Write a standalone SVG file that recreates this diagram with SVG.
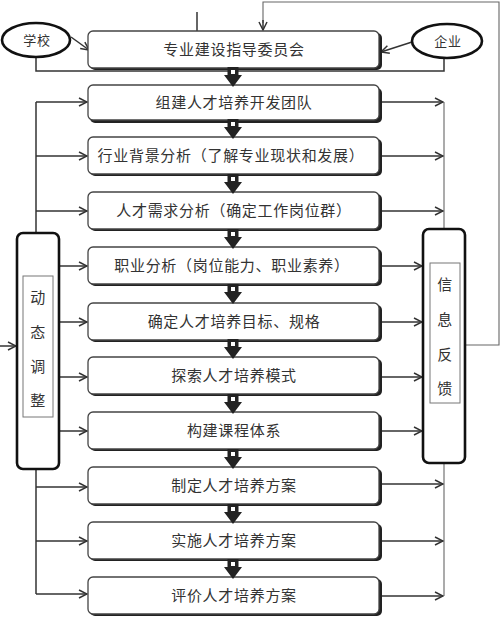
<svg xmlns="http://www.w3.org/2000/svg" width="500" height="617" viewBox="0 0 500 617">
<style>
.bx{fill:#fff;stroke:#444;stroke-width:1.3}
.sh{fill:#222}
.t{font-family:"Noto Sans CJK SC","Noto Sans",sans-serif;font-size:15px;fill:#333;text-anchor:middle;letter-spacing:0.7px}
.ln{fill:none;stroke:#333;stroke-width:1.5}
.lg{fill:none;stroke:#666;stroke-width:1.1}
.ob{fill:#fff;stroke:#111;stroke-width:2.6}
.ib{fill:#fff;stroke:#777;stroke-width:1}
</style>
<defs>
<marker id="ah" markerWidth="10" markerHeight="10" refX="9" refY="5" orient="auto" markerUnits="userSpaceOnUse"><path d="M1,1 L9,5 L1,9" fill="none" stroke="#333" stroke-width="1.5"/></marker>
<symbol id="dn" viewBox="-9 0 18 20" width="18" height="20" overflow="visible">
<path d="M-5.5,0 H5.5 V8 H9 L0,20 L-9,8 H-5.5 Z" fill="#222"/>
<rect x="-2" y="3" width="4" height="4" fill="#fff"/>
</symbol>
</defs>

<g id="connectors">
<!-- top loop -->
<path class="lg" d="M465,345 H499 V2 H263 V23"/>
<path class="ln" d="M263,20 V30" marker-end="url(#ah)"/>
<path class="ln" d="M197,12 V31"/>
<!-- ellipse arrows -->
<path class="ln" d="M71,37 L89,50" marker-end="url(#ah)"/>
<path class="ln" d="M412,42 L381,52" marker-end="url(#ah)"/>
<path class="ln" d="M36,58 V71 H444 V58"/>
<!-- left bus -->
<path class="ln" d="M36,102 V233"/>
<path class="ln" d="M36,102 H87" marker-end="url(#ah)"/>
<path class="ln" d="M36,156 H87" marker-end="url(#ah)"/>
<path class="ln" d="M36,211 H87" marker-end="url(#ah)"/>
<path class="ln" d="M59,266 H87" marker-end="url(#ah)"/>
<path class="ln" d="M59,322 H87" marker-end="url(#ah)"/>
<path class="ln" d="M59,377 H87" marker-end="url(#ah)"/>
<path class="ln" d="M59,431 H87" marker-end="url(#ah)"/>
<path class="ln" d="M36,469 V594"/>
<path class="ln" d="M36,487 H87" marker-end="url(#ah)"/>
<path class="ln" d="M36,541 H87" marker-end="url(#ah)"/>
<path class="ln" d="M36,594 H87" marker-end="url(#ah)"/>
<path class="ln" d="M0,346 H16" marker-end="url(#ah)"/>
<!-- right bus -->
<path class="lg" d="M444,102 V229"/>
<path class="ln" d="M381,102 H443" marker-end="url(#ah)"/>
<path class="ln" d="M381,156 H443" marker-end="url(#ah)"/>
<path class="ln" d="M381,211 H443" marker-end="url(#ah)"/>
<path class="ln" d="M381,266 H422" marker-end="url(#ah)"/>
<path class="ln" d="M381,322 H422" marker-end="url(#ah)"/>
<path class="ln" d="M381,377 H422" marker-end="url(#ah)"/>
<path class="ln" d="M381,431 H422" marker-end="url(#ah)"/>
<path class="lg" d="M444,463 V596"/>
<path class="ln" d="M381,484 H443" marker-end="url(#ah)"/>
<path class="ln" d="M381,541 H443" marker-end="url(#ah)"/>
<path class="ln" d="M381,596 H443" marker-end="url(#ah)"/>
</g>

<g id="school"><ellipse class="ob" cx="36" cy="40" rx="34" ry="17"/><text class="t" x="37" y="45" style="font-size:13px">学校</text></g>
<g id="enterprise"><ellipse class="ob" cx="447" cy="41" rx="35" ry="17"/><text class="t" x="448" y="46" style="font-size:13px">企业</text></g>

<g id="n1"><rect class="sh" x="90" y="33" width="292" height="37" rx="5"/><rect class="bx" x="88" y="31" width="291" height="37" rx="5"/><text class="t" x="234" y="55">专业建设指导委员会</text></g>
<g id="n2"><rect class="sh" x="90" y="88" width="292" height="35" rx="5"/><rect class="bx" x="88" y="85" width="291" height="35" rx="5"/><text class="t" x="234" y="108">组建人才培养开发团队</text></g>
<g id="n3"><rect class="sh" x="90" y="139" width="292" height="37" rx="5"/><rect class="bx" x="88" y="137" width="291" height="37" rx="5"/><text class="t" x="231" y="161">行业背景分析（了解专业现状和发展）</text></g>
<g id="n4"><rect class="sh" x="90" y="194" width="292" height="37" rx="5"/><rect class="bx" x="88" y="192" width="291" height="37" rx="5"/><text class="t" x="234" y="216">人才需求分析（确定工作岗位群）</text></g>
<g id="n5"><rect class="sh" x="90" y="249" width="292" height="37" rx="5"/><rect class="bx" x="88" y="247" width="291" height="37" rx="5"/><text class="t" x="232" y="271">职业分析（岗位能力、职业素养）</text></g>
<g id="n6"><rect class="sh" x="90" y="305" width="292" height="37" rx="5"/><rect class="bx" x="88" y="303" width="291" height="37" rx="5"/><text class="t" x="234" y="327">确定人才培养目标、规格</text></g>
<g id="n7"><rect class="sh" x="90" y="359" width="292" height="37" rx="5"/><rect class="bx" x="88" y="357" width="291" height="37" rx="5"/><text class="t" x="234" y="381">探索人才培养模式</text></g>
<g id="n8"><rect class="sh" x="90" y="414" width="292" height="37" rx="5"/><rect class="bx" x="88" y="412" width="291" height="37" rx="5"/><text class="t" x="234" y="436">构建课程体系</text></g>
<g id="n9"><rect class="sh" x="90" y="469" width="292" height="37" rx="5"/><rect class="bx" x="88" y="467" width="291" height="37" rx="5"/><text class="t" x="234" y="491">制定人才培养方案</text></g>
<g id="n10"><rect class="sh" x="90" y="524" width="292" height="37" rx="5"/><rect class="bx" x="88" y="522" width="291" height="37" rx="5"/><text class="t" x="234" y="546">实施人才培养方案</text></g>
<g id="n11"><rect class="sh" x="90" y="579" width="292" height="37" rx="5"/><rect class="bx" x="88" y="577" width="291" height="37" rx="5"/><text class="t" x="234" y="601">评价人才培养方案</text></g>

<g id="flow-arrows">
<use href="#dn" x="224" y="67"/>
<use href="#dn" x="224" y="119"/>
<use href="#dn" x="224" y="174"/>
<use href="#dn" x="224" y="229"/>
<use href="#dn" x="224" y="284"/>
<use href="#dn" x="224" y="339"/>
<use href="#dn" x="224" y="394"/>
<use href="#dn" x="224" y="449"/>
<use href="#dn" x="224" y="504"/>
<use href="#dn" x="224" y="559"/>
</g>

<g id="adjust">
<rect class="ob" x="17" y="233" width="42" height="236" rx="6"/>
<rect class="ib" x="23" y="276" width="30" height="141"/>
<text class="t" x="38" y="303">动</text>
<text class="t" x="38" y="338">态</text>
<text class="t" x="38" y="372">调</text>
<text class="t" x="38" y="406">整</text>
</g>
<g id="feedback">
<rect class="ob" x="423" y="229" width="42" height="234" rx="6"/>
<rect class="ib" x="430" y="263" width="30" height="140"/>
<text class="t" x="445" y="290">信</text>
<text class="t" x="445" y="325">息</text>
<text class="t" x="445" y="360">反</text>
<text class="t" x="445" y="394">馈</text>
</g>
</svg>
